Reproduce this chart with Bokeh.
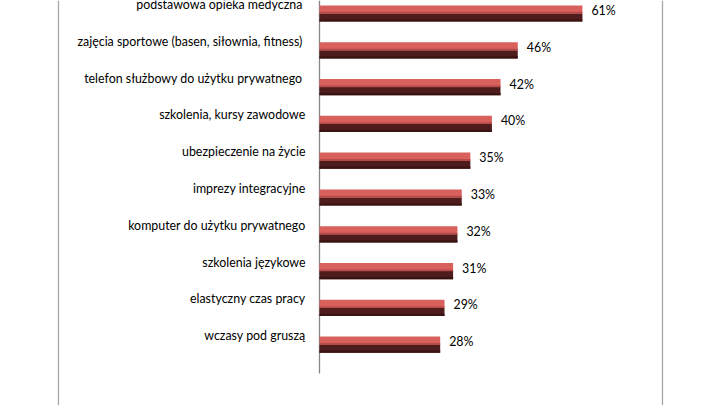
from bokeh.plotting import figure
from bokeh.models import Range1d, Span, ColumnDataSource
from bokeh.core.properties import value
from bokeh.embed import file_html
from bokeh.resources import INLINE

categories = [
    "podstawowa  opieka medyczna",
    "zajęcia sportowe (basen, siłownia,  fitness)",
    "telefon służbowy do użytku  prywatnego",
    "szkolenia, kursy zawodowe",
    "ubezpieczenie na życie",
    "imprezy integracyjne",
    "komputer do użytku prywatnego",
    "szkolenia językowe",
    "elastyczny czas pracy",
    "wczasy pod gruszą",
]
values = [61, 46, 42, 40, 35, 33, 32, 31, 29, 28]
value_labels = [f"{v}%" for v in values]

n = len(categories)
idx = list(range(n))
PX_PER_PCT = 4.31
PX_PER_ROW = 36.8
W, H = 720, 405
X0 = 319  # pixel of zero (figure coords)
Y0 = 13   # pixel of first row centre

src = ColumnDataSource(dict(
    cat=categories, val=values, lab=value_labels, y=idx,
    y_top=[i - 0.11 for i in idx], y_bot=[i + 0.11 for i in idx],
    y_hi=[i - 0.02 for i in idx], y_lo=[i + 0.19 for i in idx],
))

p = figure(width=W, height=H, output_backend="svg", toolbar_location=None,
           x_range=Range1d(-X0 / PX_PER_PCT, (W - X0) / PX_PER_PCT),
           y_range=Range1d((H - Y0) / PX_PER_ROW, -Y0 / PX_PER_ROW),
           min_border=0)
p.axis.visible = False
p.grid.visible = False
p.outline_line_color = None
p.background_fill_color = "white"

for px in (58, 662):
    p.add_layout(Span(location=(px - X0) / PX_PER_PCT, dimension="height",
                      line_color="#a6a6a6", line_width=1.3))

p.segment(x0=[0], y0=[-Y0 / PX_PER_ROW], x1=[0], y1=[n - 0.22],
          line_color="#868686", line_width=1.3)

bh = 0.22
p.hbar(y="y_top", left=0, right="val", height=bh, source=src,
       fill_color="#d8605d", line_color=None)
p.hbar(y="y_bot", left=0, right="val", height=bh, source=src,
       fill_color="#4e1c1c", line_color=None)
p.hbar(y="y_hi", left=0, right="val", height=0.05, source=src,
       fill_color="#b84a48", line_color=None)
p.hbar(y="y_lo", left=0, right="val", height=0.06, source=src,
       fill_color="#3a1212", line_color=None)

p.text(x=0, y="y", text="cat", source=src, x_offset=-14, y_offset=-9,
       text_align="right", text_baseline="middle",
       text_font=value("Lato"), text_font_size="12.4px", text_color="#000000")
p.text(x="val", y="y", text="lab", source=src, x_offset=9, y_offset=-3,
       text_align="left", text_baseline="middle",
       text_font=value("Lato"), text_font_size="12.4px", text_color="#000000")

open("out.html", "w").write(file_html(p, INLINE))
